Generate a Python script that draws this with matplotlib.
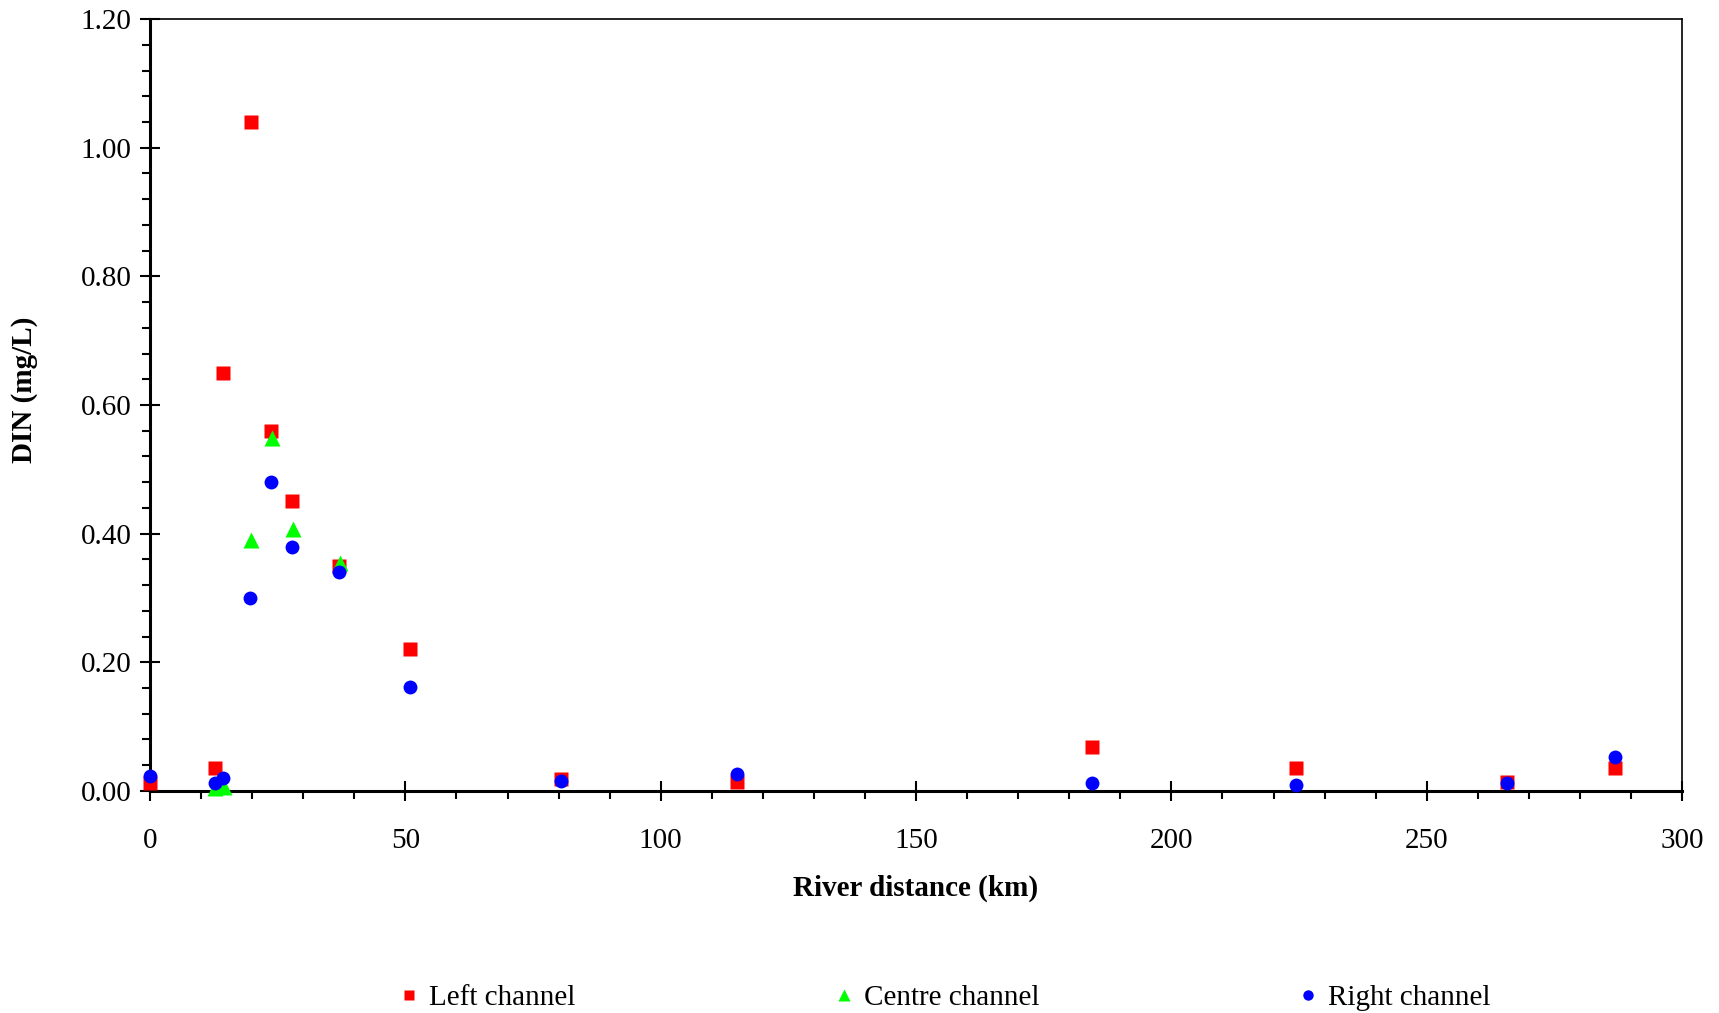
import matplotlib
matplotlib.use('Agg')
import matplotlib.pyplot as plt
from matplotlib.ticker import MultipleLocator, FormatStrFormatter

plt.rcParams['font.family'] = ['Liberation Serif', 'DejaVu Serif']

# river distance (km) and DIN (mg/L) per channel
left_km = [0, 12.7, 14.2, 19.8, 23.6, 27.7, 36.9, 50.9, 80.5, 114.9, 184.5, 224.4, 265.8, 286.9]
left_din = [0.012, 0.036, 0.65, 1.04, 0.56, 0.45, 0.35, 0.22, 0.019, 0.014, 0.068, 0.036, 0.014, 0.036]

centre_km = [12.7, 14.4, 19.8, 23.8, 27.9, 37.1]
centre_din = [0.004, 0.006, 0.39, 0.548, 0.408, 0.355]

right_km = [0, 12.7, 14.2, 19.6, 23.6, 27.7, 36.9, 50.9, 80.5, 114.9, 184.5, 224.4, 265.8, 286.9]
right_din = [0.024, 0.012, 0.02, 0.30, 0.48, 0.38, 0.34, 0.162, 0.015, 0.027, 0.012, 0.009, 0.013, 0.053]

fig = plt.figure(figsize=(17.19, 10.13), dpi=100)
ax = fig.add_axes([0.0873, 0.2192, 0.8912, 0.762])

ax.plot(left_km, left_din, ls='', marker='s', ms=10, c='#ff0000', mec='none', label='Left channel', clip_on=False, zorder=3)
ax.plot(centre_km, centre_din, ls='', marker='^', ms=11, c='#00ff00', mec='none', label='Centre channel', clip_on=False, zorder=3)
ax.plot(right_km, right_din, ls='', marker='o', ms=10, c='#0000ff', mec='none', label='Right channel', clip_on=False, zorder=3)

ax.set_xlim(0, 300)
ax.set_ylim(0, 1.2)
ax.xaxis.set_major_locator(MultipleLocator(50))
ax.xaxis.set_minor_locator(MultipleLocator(10))
ax.yaxis.set_major_locator(MultipleLocator(0.2))
ax.yaxis.set_minor_locator(MultipleLocator(0.04))
ax.yaxis.set_major_formatter(FormatStrFormatter('%.2f'))

for s in ['left', 'bottom']:
    ax.spines[s].set_linewidth(2.2)
for s in ['top', 'right']:
    ax.spines[s].set_linewidth(1.2)

ax.tick_params(which='major', direction='inout', length=15, width=1.5, labelsize=21)
ax.tick_params(which='minor', direction='out', length=6, width=1.5)
ax.tick_params(axis='x', which='major', pad=19)
ax.tick_params(axis='y', which='major', pad=6)

ax.set_xlabel('River distance (km)', fontsize=21, fontweight='bold', labelpad=15)
ax.set_ylabel('DIN (mg/L)', fontsize=21, fontweight='bold')
ax.yaxis.set_label_coords(-0.073, 0.52)

fig.legend(loc='lower center', bbox_to_anchor=(0.55, -0.024), ncol=3, frameon=False,
           fontsize=21, markerscale=0.75, handlelength=0.6, handletextpad=0.4,
           columnspacing=8.9)

fig.savefig('out.png', dpi=100)
